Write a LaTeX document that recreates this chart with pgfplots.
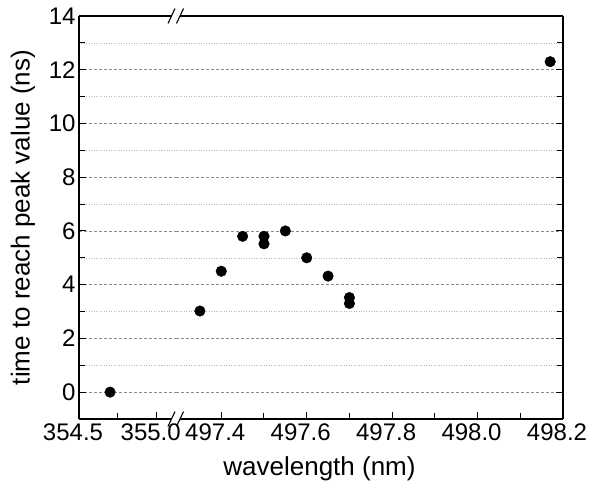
\documentclass[border=0pt]{standalone}
\usepackage{fontspec}
\setmainfont{Liberation Sans}
\usepackage{pgfplots}
\usepackage{pgfplotstable}
\pgfplotsset{compat=1.18}

\pgfplotstableread{
x y
354.70 0
}\leftdata
\pgfplotstableread{
x y
497.35 3.02
497.40 4.50
497.45 5.80
497.50 5.80
497.50 5.52
497.55 6.00
497.60 5.00
497.65 4.32
497.70 3.52
497.70 3.30
498.17 12.30
}\rightdata

\pgfplotsset{brk/.style={
  scale only axis, height=403pt, ymin=-1, ymax=14,
  ytick={0,2,...,14}, minor ytick={1,3,...,13},
  ymajorgrids, yminorgrids,
  major grid style={dash pattern=on 3pt off 2pt, gray!90, line width=0.6pt},
  minor grid style={dash pattern=on 1pt off 1.5pt, gray!55, line width=0.6pt},
  tick align=inside, major tick length=7pt, minor tick length=6pt,
  every tick/.style={black, line width=1pt},
  axis line style={black, line width=1.2pt, -},
  xtick pos=left,
  tick label style={font=\fontsize{24}{26}\selectfont},
  label style={font=\fontsize{26}{30}\selectfont},
  /pgf/number format/assume math mode=true,
  x tick label style={/pgf/number format/.cd, fixed, fixed zerofill, precision=1, /tikz/.cd, xshift=-6pt, yshift=-1pt},
  clip=false,
}}

\begin{document}
\begin{tikzpicture}
\path[use as bounding box] (-79pt,-72pt) rectangle (513pt,419pt);
\begin{axis}[brk, at={(0pt,0pt)}, anchor=south west, width=97pt,
  xmin=354.5, xmax=355.124,
  xtick={354.5,355.0}, minor xtick={354.75},
  axis y line*=left,
  ylabel={time to reach peak value (ns)}, ylabel shift=7pt,
]
\addplot[only marks, mark=*, mark size=5.3pt, black] table[x=x,y=y] {\leftdata};
\end{axis}
\begin{axis}[brk, at={(97pt,0pt)}, anchor=south west, width=387pt,
  xmin=497.294, xmax=498.2,
  xtick={497.4,497.6,497.8,498.0,498.2}, minor xtick={497.5,497.7,497.9,498.1},
  axis y line*=right, yticklabels={},
  xlabel={wavelength (nm)}, xlabel style={xshift=-50pt}, xlabel shift=9pt,
]
\addplot[only marks, mark=*, mark size=5.3pt, black] table[x=x,y=y] {\rightdata};
\end{axis}
\foreach \yy in {0,403}{
  \fill[white] (91.57pt,\yy pt-2.2pt) -- (100.07pt,\yy pt-2.2pt) -- (101.93pt,\yy pt+2.2pt) -- (93.43pt,\yy pt+2.2pt) -- cycle;
  \draw[black, line width=1.1pt] (89pt,\yy pt-7.5pt) -- (96pt,\yy pt+7.5pt);
  \draw[black, line width=1.1pt] (97.5pt,\yy pt-7.5pt) -- (104.5pt,\yy pt+7.5pt);
}
\end{tikzpicture}
\end{document}
